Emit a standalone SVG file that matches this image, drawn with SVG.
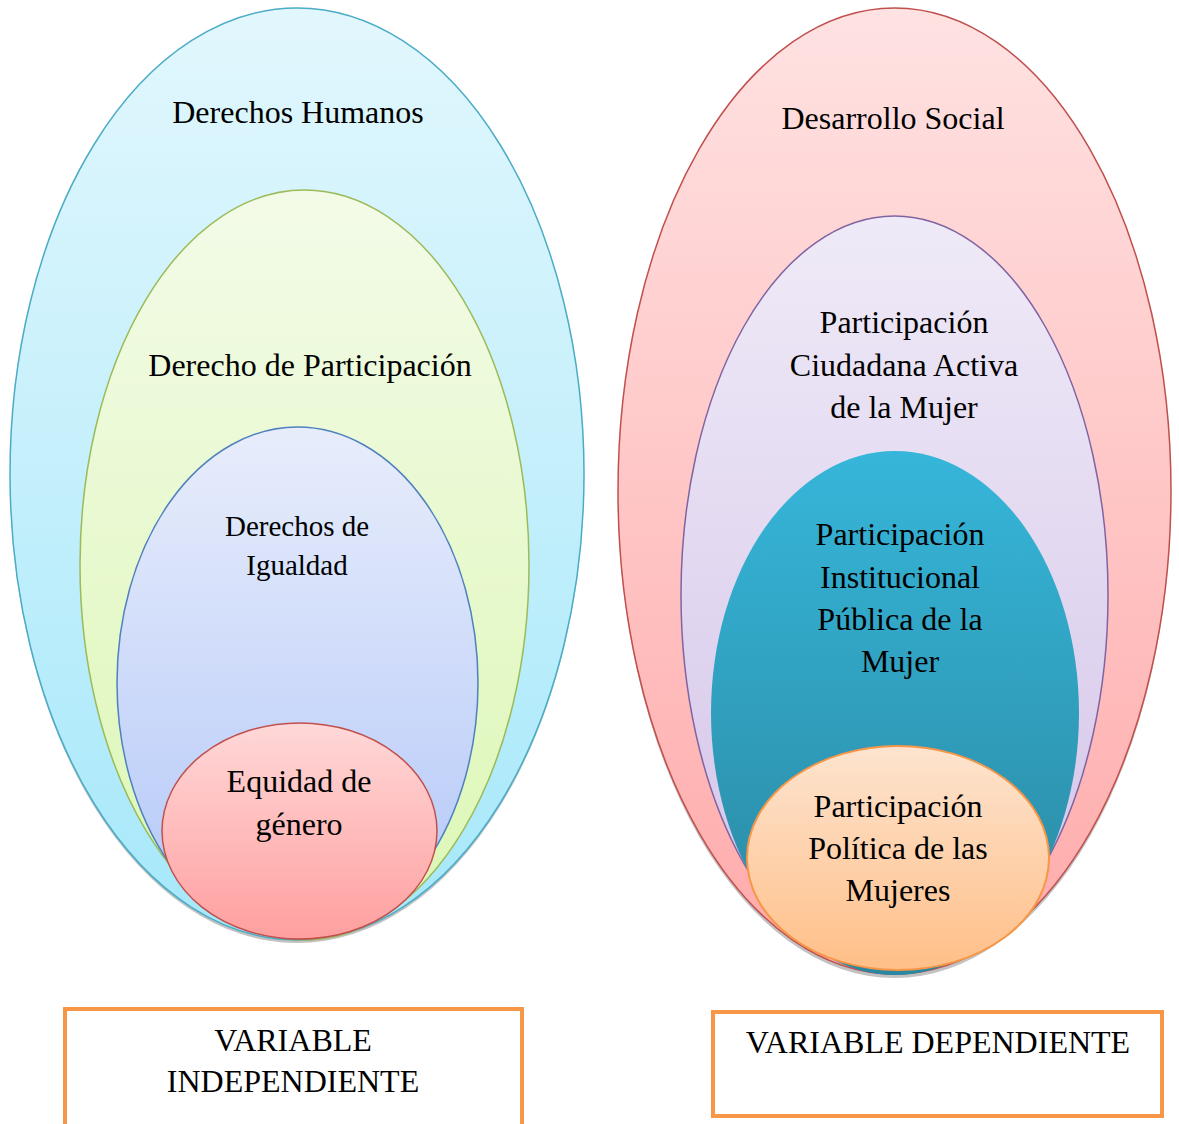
<svg xmlns="http://www.w3.org/2000/svg" width="1179" height="1124" viewBox="0 0 1179 1124">
<defs>
<linearGradient id="gCyan" x1="0" y1="0" x2="0" y2="1"><stop offset="0" stop-color="#E2F7FD"/><stop offset="1" stop-color="#A6E8FA"/></linearGradient>
<linearGradient id="gGreen" x1="0" y1="0" x2="0" y2="1"><stop offset="0" stop-color="#F3FBE8"/><stop offset="1" stop-color="#DCF7B4"/></linearGradient>
<linearGradient id="gBlue" x1="0" y1="0" x2="0" y2="1"><stop offset="0" stop-color="#E8EDFB"/><stop offset="1" stop-color="#B2C7F8"/></linearGradient>
<linearGradient id="gPink" x1="0" y1="0" x2="0" y2="1"><stop offset="0" stop-color="#FFD8D8"/><stop offset="1" stop-color="#FF9F9F"/></linearGradient>
<linearGradient id="gRed" x1="0" y1="0" x2="0" y2="1"><stop offset="0" stop-color="#FFE2E2"/><stop offset="1" stop-color="#FFAAAA"/></linearGradient>
<linearGradient id="gPurple" x1="0" y1="0" x2="0" y2="1"><stop offset="0" stop-color="#EFEAF7"/><stop offset="1" stop-color="#D3C3E9"/></linearGradient>
<linearGradient id="gTeal" x1="0" y1="0" x2="0" y2="1"><stop offset="0" stop-color="#36B6DA"/><stop offset="1" stop-color="#2A879F"/></linearGradient>
<linearGradient id="gPeach" x1="0" y1="0" x2="0" y2="1"><stop offset="0" stop-color="#FDE4CF"/><stop offset="1" stop-color="#FFBF88"/></linearGradient>
</defs>
<style>
text{font-family:"Liberation Serif","Times New Roman",serif;font-size:32px;fill:#000;text-anchor:middle}
.small{font-size:29px}
.shadow{fill:#9a9a9a;opacity:0.6}
.box{fill:#fff;stroke:#F79646;stroke-width:4}
</style>
<g id="left">
<g id="derechos-humanos">
<ellipse class="shadow" cx="297" cy="477" rx="287" ry="466"/>
<ellipse cx="297" cy="474" rx="287" ry="466" fill="url(#gCyan)" stroke="#4BACC6" stroke-width="1.5"/>
<text x="298" y="123">Derechos Humanos</text>
</g>
<g id="derecho-participacion">
<ellipse cx="304.5" cy="565" rx="224.5" ry="375" fill="url(#gGreen)" stroke="#9BBB59" stroke-width="1.5"/>
<text x="310" y="376">Derecho de Participación</text>
</g>
<g id="derechos-igualdad">
<ellipse cx="297.5" cy="683" rx="180.5" ry="256" fill="url(#gBlue)" stroke="#4F81BD" stroke-width="1.5"/>
<text class="small" x="297" y="536">Derechos de</text>
<text class="small" x="297" y="575">Igualdad</text>
</g>
<g id="equidad-genero">
<ellipse cx="299.5" cy="831" rx="137.5" ry="108" fill="url(#gPink)" stroke="#C0504D" stroke-width="1.5"/>
<text x="299" y="792">Equidad de</text>
<text x="299" y="835">género</text>
</g>
</g>
<g id="right">
<g id="desarrollo-social">
<ellipse class="shadow" cx="894.5" cy="495" rx="276.5" ry="483"/>
<ellipse cx="894.5" cy="491" rx="276.5" ry="483" fill="url(#gRed)" stroke="#C0504D" stroke-width="1.5"/>
<text x="893" y="129">Desarrollo Social</text>
</g>
<g id="participacion-ciudadana">
<ellipse cx="894.5" cy="595" rx="213.5" ry="379" fill="url(#gPurple)" stroke="#8064A2" stroke-width="1.5"/>
<text x="904" y="333">Participación</text>
<text x="904" y="376">Ciudadana Activa</text>
<text x="904" y="418">de la Mujer</text>
</g>
<g id="participacion-institucional">
<ellipse cx="895" cy="713" rx="184" ry="262" fill="url(#gTeal)"/>
<text x="900" y="545">Participación</text>
<text x="900" y="588">Institucional</text>
<text x="900" y="630">Pública de la</text>
<text x="900" y="672">Mujer</text>
</g>
<g id="participacion-politica">
<ellipse cx="898" cy="858" rx="151" ry="112" fill="url(#gPeach)" stroke="#F79646" stroke-width="2"/>
<text x="898" y="817">Participación</text>
<text x="898" y="859">Política de las</text>
<text x="898" y="901">Mujeres</text>
</g>
</g>
<g id="variable-independiente">
<rect class="box" x="65" y="1009" width="457" height="120"/>
<text x="293" y="1051">VARIABLE</text>
<text x="293" y="1092">INDEPENDIENTE</text>
</g>
<g id="variable-dependiente">
<rect class="box" x="713" y="1012" width="449" height="104"/>
<text x="938" y="1053">VARIABLE DEPENDIENTE</text>
</g>
<g id="connectors"/>
</svg>
